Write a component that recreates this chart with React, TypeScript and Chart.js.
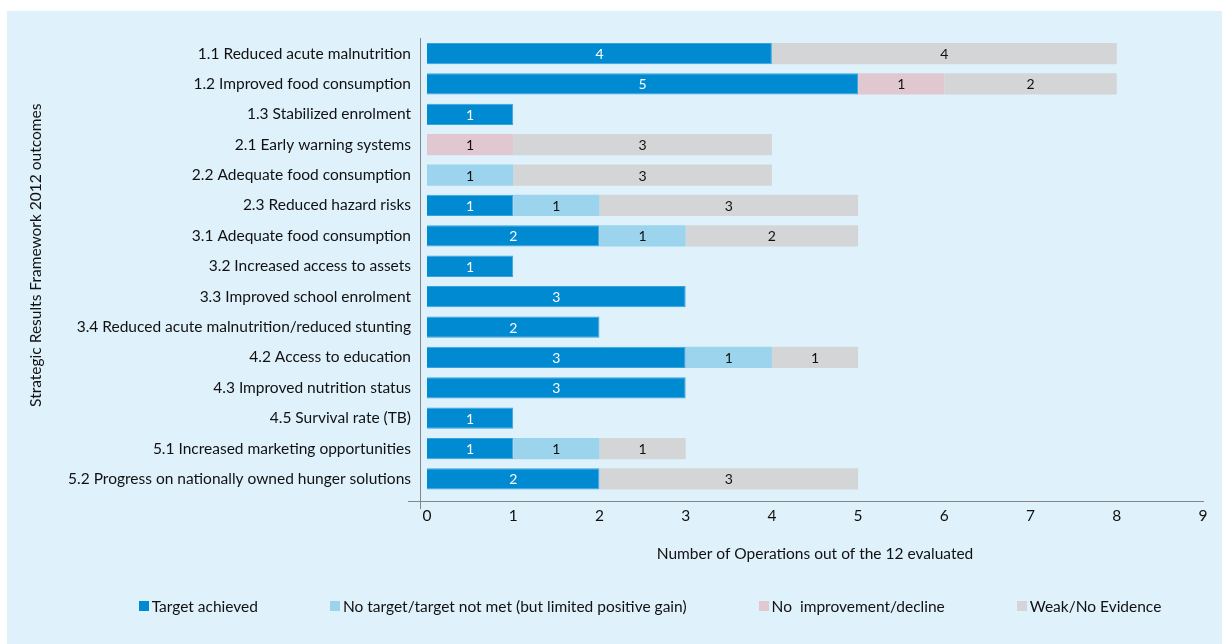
import React, { useEffect, useRef } from "react";
import { Chart, registerables } from "chart.js";

Chart.register(...registerables);

const categories = [
  "1.1 Reduced acute malnutrition",
  "1.2 Improved food consumption",
  "1.3 Stabilized enrolment",
  "2.1 Early warning systems",
  "2.2 Adequate food consumption",
  "2.3 Reduced hazard risks",
  "3.1 Adequate food consumption",
  "3.2 Increased access to assets",
  "3.3 Improved school enrolment",
  "3.4 Reduced acute malnutrition/reduced stunting",
  "4.2 Access to education",
  "4.3 Improved nutrition status",
  "4.5 Survival rate (TB)",
  "5.1 Increased marketing opportunities",
  "5.2 Progress on nationally owned hunger solutions",
];

const targetAchieved = [4, 5, 1, 0, 0, 1, 2, 1, 3, 2, 3, 3, 1, 1, 2];
const noTargetGain = [0, 0, 0, 0, 1, 1, 1, 0, 0, 0, 1, 0, 0, 1, 0];
const noImprovement = [0, 1, 0, 1, 0, 0, 0, 0, 0, 0, 0, 0, 0, 0, 0];
const weakEvidence = [4, 2, 0, 3, 3, 3, 2, 0, 0, 0, 1, 0, 0, 1, 3];

const seriesNames = [
  "Target achieved",
  "No target/target not met (but limited positive gain)",
  "No  improvement/decline",
  "Weak/No Evidence",
];
const seriesColors = ["#008ad2", "#9cd3ed", "#e1c8d0", "#d4d5d6"];
const labelColors = ["#ffffff", "#111111", "#111111", "#111111"];

const xMin = 0;
const xMax = 9;
const xStep = 1;

const yTitle = "Strategic Results Framework 2012 outcomes";
const xTitle = "Number of Operations out of the 12 evaluated";

const FONT = "Lato, 'Open Sans', sans-serif";
const FS = 15.5;
const TEXT = "#111111";
const BG = "#dff1fb";

const valueLabels = {
  id: "valueLabels",
  afterDatasetsDraw(chart: any) {
    const ctx = chart.ctx;
    chart.data.datasets.forEach((ds: any, di: number) => {
      const meta = chart.getDatasetMeta(di);
      meta.data.forEach((el: any, i: number) => {
        const v = ds.data[i];
        if (!v) return;
        const { x, y, base } = el.getProps(["x", "y", "base"], true);
        ctx.save();
        ctx.fillStyle = labelColors[di];
        ctx.font = `14px ${FONT}`;
        ctx.textAlign = "center";
        ctx.textBaseline = "middle";
        ctx.fillText(String(v), (x + base) / 2, y + 1);
        ctx.restore();
      });
    });
  },
};

const axisLines = {
  id: "axisLines",
  afterDraw(chart: any) {
    const { ctx, chartArea } = chart;
    const { left, right, top, bottom } = chartArea;
    ctx.save();
    ctx.strokeStyle = "#858585";
    ctx.lineWidth = 1;
    const vx = Math.round(left - 7) + 0.5;
    const hy = Math.round(bottom + 7) + 0.5;
    ctx.beginPath();
    ctx.moveTo(vx, Math.round(top));
    ctx.lineTo(vx, Math.round(bottom + 15));
    ctx.moveTo(Math.round(left - 19), hy);
    ctx.lineTo(Math.round(right + 1), hy);
    ctx.stroke();
    ctx.restore();

    // rotated y-axis title, slightly above the plot's vertical centre
    ctx.save();
    ctx.fillStyle = TEXT;
    ctx.font = `${FS}px ${FONT}`;
    ctx.textAlign = "center";
    ctx.textBaseline = "middle";
    ctx.translate(29, (top + bottom) / 2 - 11);
    ctx.rotate(-Math.PI / 2);
    ctx.fillText(yTitle, 0, 0);
    ctx.restore();
  },
};

const series = [targetAchieved, noTargetGain, noImprovement, weakEvidence];

export default function App() {
  const ref = useRef<HTMLCanvasElement | null>(null);

  useEffect(() => {
    if (!ref.current) return;
    const chart = new Chart(ref.current, {
      type: "bar",
      data: {
        labels: categories,
        datasets: series.map((vals, i) => ({
          label: seriesNames[i],
          data: vals.map((v) => (v === 0 ? null : v)),
          backgroundColor: seriesColors[i],
          borderColor: i === 0 ? "#3aa2db" : seriesColors[i],
          borderWidth: i === 0 ? 1 : 0,
          borderSkipped: "left",
          categoryPercentage: 1,
          barPercentage: 0.7,
        })),
      },
      options: {
        indexAxis: "y",
        responsive: false,
        animation: false,
        events: [],
        layout: { padding: { top: 27.4, left: 16, right: 19, bottom: 80.7 } },
        plugins: {
          legend: { display: false },
          tooltip: { enabled: false },
        },
        scales: {
          x: {
            stacked: true,
            min: xMin,
            max: xMax,
            grid: { display: false, drawTicks: false },
            border: { display: false },
            ticks: {
              stepSize: xStep,
              padding: 13,
              color: TEXT,
              font: { family: FONT, size: FS },
            },
            title: {
              display: true,
              text: xTitle,
              color: TEXT,
              font: { family: FONT, size: FS },
              padding: { top: 6, bottom: 0 },
            },
          },
          y: {
            stacked: true,
            grid: { display: false, drawTicks: false },
            border: { display: false },
            afterFit: (scale: any) => {
              scale.width = 404;
            },
            ticks: {
              padding: 16,
              color: TEXT,
              autoSkip: false,
              font: { family: FONT, size: FS },
            },
            title: { display: false, text: yTitle },
          },
        },
      },
      plugins: [valueLabels, axisLines],
    });
    return () => chart.destroy();
  }, []);

  return (
    <div
      style={{
        position: "fixed",
        left: 0,
        top: 0,
        width: 1222,
        height: 644,
        background: "#ffffff",
        overflow: "hidden",
      }}
    >
      <div
        style={{
          position: "absolute",
          left: 7,
          top: 11,
          width: 1215,
          height: 633,
          background: BG,
        }}
      >
        <canvas ref={ref} width={1215} height={633} style={{ display: "block" }} />
      </div>
      <div
        style={{
          position: "absolute",
          left: 0,
          top: 596,
          width: 1300,
          height: 20,
          display: "flex",
          justifyContent: "center",
          alignItems: "center",
          gap: 72,
          fontFamily: FONT,
          fontSize: FS,
          color: TEXT,
          whiteSpace: "pre",
        }}
      >
        {seriesNames.map((name, i) => (
          <div key={name} style={{ display: "flex", alignItems: "center" }}>
            <span
              style={{
                display: "inline-block",
                width: 10,
                height: 10,
                background: seriesColors[i],
                marginRight: 3,
              }}
            />
            <span>{name}</span>
          </div>
        ))}
      </div>
    </div>
  );
}
